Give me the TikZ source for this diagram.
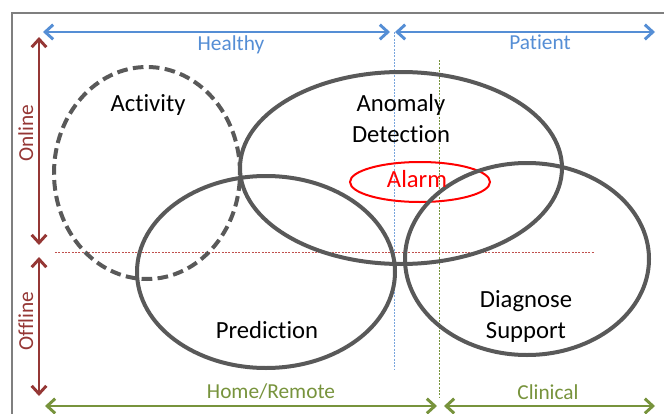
\documentclass[tikz,border=0pt]{standalone}
\usepackage{fontspec}
\setmainfont{Carlito}[Ligatures=NoCommon]
\usetikzlibrary{shapes.geometric,arrows.meta}

\definecolor{ringgray}{HTML}{595959}
\definecolor{framegray}{HTML}{7F7F7F}
\definecolor{axisblue}{HTML}{558ED5}
\definecolor{axisred}{HTML}{953735}
\definecolor{axisgreen}{HTML}{77933C}
\definecolor{guidered}{HTML}{C0504D}

\begin{document}
\begin{tikzpicture}[x=0.75pt, y=-0.75pt,
    ring/.style={ellipse, draw=ringgray, line width=3pt, inner sep=0pt},
    axis/.style={line width=2.2pt, {Straight Barb[length=6pt,width=11pt]}-{Straight Barb[length=6pt,width=11pt]}},
    guide/.style={line width=0.6pt, dash pattern=on 1.5pt off 1pt},
    tag/.style={anchor=base, font=\fontsize{16}{19}\selectfont},
    areatext/.style={anchor=base, align=center, font=\fontsize{18.5}{23.25}\selectfont}]
        \useasboundingbox (0,0) rectangle (664,414);
        \draw[framegray, line width=1.5pt] (12,414) -- (12,13) -- (664,13);

        % dotted split lines
        \coordinate (bluetop) at (394,32);
        \coordinate (bluebot) at (394,370);
        \coordinate (greentop) at (439,60);
        \coordinate (greenbot) at (439,397);
        \coordinate (redleft) at (55,252);
        \coordinate (redright) at (595,252);
        \draw[guide, axisblue!80] (bluetop) -- (bluebot);
        \draw[guide, axisgreen] (greentop) -- (greenbot);
        \draw[guide, guidered] (redleft) -- (redright);

        % areas
        \node[ellipse, draw=red, line width=1.5pt, minimum width=105pt, minimum height=30pt, inner sep=0pt] (alarm) at (420,182) {};
        \node[ring, dash pattern=on 8pt off 4pt, minimum width=139.5pt, minimum height=159pt] (activity) at (147,173) {};
        \node[ring, minimum width=241.5pt, minimum height=144pt] (anomaly) at (401,168) {};
        \node[ring, minimum width=193.5pt, minimum height=144pt] (prediction) at (266,272) {};
        \node[ring, minimum width=183pt, minimum height=144pt] (diagnose) at (527,259) {};

        \node[areatext] (activitytext) at (148,111) {Activity};
        \node[areatext] (anomalytext) at (401,142) {Anomaly\\Detection};
        \node[areatext, text=red] (alarmtext) at (417,187) {Alarm};
        \node[areatext] (predictiontext) at (267,338) {Prediction};
        \node[areatext] (diagnosetext) at (526,338) {Diagnose\\Support};

        % axes
        \coordinate (healthyL) at (43,32);
        \coordinate (healthyR) at (390,32);
        \coordinate (patientL) at (395,32);
        \coordinate (patientR) at (655,32);
        \coordinate (onlineT) at (39,37);
        \coordinate (onlineB) at (39,245);
        \coordinate (offlineT) at (39,257);
        \coordinate (offlineB) at (39,396);
        \coordinate (homeL) at (45,406);
        \coordinate (homeR) at (437,406);
        \coordinate (clinicalL) at (444,406);
        \coordinate (clinicalR) at (655,406);

        \draw[axis, axisblue] (healthyL) -- (healthyR);
        \draw[axis, axisblue] (patientL) -- (patientR);
        \draw[axis, axisred] (onlineT) -- (onlineB);
        \draw[axis, axisred] (offlineT) -- (offlineB);
        \draw[axis, axisgreen] (homeL) -- (homeR);
        \draw[axis, axisgreen] (clinicalL) -- (clinicalR);

        \node[tag, text=axisblue] (healthy) at (231,50) {Healthy};
        \node[tag, text=axisblue] (patient) at (540,49) {Patient};
        \node[tag, text=axisred, rotate=90] (online) at (33,133) {Online};
        \node[tag, text=axisred, rotate=90] (offline) at (33,321) {Offline};
        \node[tag, text=axisgreen] (home) at (271,398) {Home/Remote};
        \node[tag, text=axisgreen] (clinical) at (548,399) {Clinical};
    \end{tikzpicture}
\end{document}
